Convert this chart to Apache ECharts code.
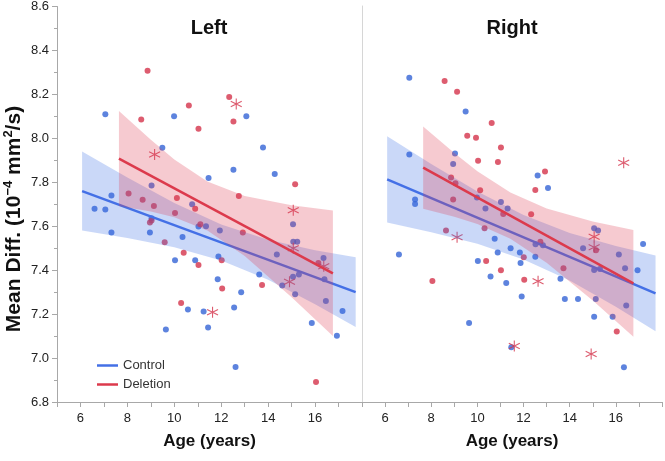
<!DOCTYPE html>
<html>
<head>
<meta charset="utf-8">
<script src="https://cdn.jsdelivr.net/npm/echarts@6/dist/echarts.min.js"></script>
<style>html,body{margin:0;padding:0;background:#fff}#c{width:665px;height:461px}</style>
</head>
<body>
<div id="c"></div>
<script>
// ---------- data ----------
const panelTitles = ['Left', 'Right'];
const xTickLabels = [6, 8, 10, 12, 14, 16];
const yTickLabels = [6.8, 7.0, 7.2, 7.4, 7.6, 7.8, 8.0, 8.2, 8.4, 8.6];

const leftControl = [[6.60,7.68],[7.06,7.676],[7.06,8.11],[7.32,7.74],[7.32,7.571],[8.96,7.571],[9.03,7.636],[9.03,7.785],[9.49,7.957],[9.64,7.130],[9.99,8.10],[10.03,7.445],[10.35,7.551],[10.58,7.221],[10.76,7.70],[10.89,7.445],[11.03,7.599],[11.25,7.212],[11.35,7.60],[11.44,7.139],[11.46,7.82],[11.88,7.462],[11.85,7.359],[11.94,7.58],[12.52,7.857],[12.55,7.23],[12.61,6.959],[12.85,7.299],[13.07,8.101],[13.62,7.38],[13.78,7.958],[14.28,7.838],[14.37,7.471],[14.6,7.33],[15.06,7.609],[15.07,7.529],[15.24,7.529],[15.06,7.37],[15.31,7.38],[15.15,7.29],[15.86,7.16],[16.36,7.455],[16.4,7.359],[16.46,7.26],[16.93,7.101],[17.17,7.214]];
const leftDeletion = [[8.05,7.749],[8.59,8.086],[8.65,7.72],[8.86,8.308],[8.96,7.617],[9.03,7.626],[9.13,7.692],[9.59,7.527],[10.03,7.66],[10.11,7.729],[10.29,7.251],[10.4,7.479],[10.62,8.15],[10.89,7.68],[11.03,8.044],[11.11,7.609],[11.03,7.423],[12.02,7.445],[12.04,7.317],[12.34,8.188],[12.52,8.077],[12.75,7.738],[12.92,7.571],[13.74,7.332],[15.15,7.791],[16.14,7.433],[16.04,6.891]];
const leftDeletionStar = [[9.16,7.926],[11.63,7.209],[12.64,8.156],[15.07,7.673],[15.07,7.50],[14.91,7.347],[16.37,7.418]];

const rightControl = [[6.6,7.471],[7.05,8.274],[7.05,7.925],[7.3,7.72],[7.3,7.70],[8.95,7.882],[9.03,7.929],[9.49,8.12],[9.64,7.159],[9.98,7.729],[10.02,7.441],[10.35,7.68],[10.57,7.37],[10.75,7.542],[10.88,7.48],[11.02,7.709],[11.25,7.341],[11.31,7.68],[11.44,7.499],[11.47,7.049],[11.84,7.48],[11.87,7.432],[11.92,7.279],[12.51,7.46],[12.52,7.517],[12.61,7.829],[12.84,7.512],[13.06,7.773],[13.6,7.36],[13.79,7.268],[14.36,7.268],[14.58,7.499],[15.06,7.59],[15.23,7.58],[15.06,7.40],[15.31,7.405],[15.13,7.268],[15.06,7.188],[15.86,7.188],[16.13,7.47],[16.4,7.408],[16.45,7.239],[16.35,6.958],[16.94,7.399],[17.18,7.518]];
const rightDeletion = [[8.05,7.35],[8.58,8.259],[8.64,7.58],[8.86,7.82],[8.95,7.72],[9.05,7.794],[9.12,8.21],[9.56,8.01],[9.94,8.001],[10.03,7.897],[10.12,7.762],[10.31,7.59],[10.38,7.441],[10.62,8.068],[10.89,7.891],[11.02,7.957],[11.02,7.399],[11.12,7.655],[12.01,7.458],[12.03,7.356],[12.33,7.653],[12.51,7.764],[12.73,7.528],[12.93,7.848],[13.73,7.408],[15.14,7.49],[16.04,7.121]];
const rightDeletionStar = [[9.12,7.549],[12.63,7.349],[16.34,7.888],[15.06,7.551],[15.06,7.503],[11.6,7.055],[14.93,7.018]];

// fit lines (end points)
const leftControlLine = [[6.07,7.760],[17.73,7.300]];
const leftDeletionLine = [[7.64,7.908],[16.76,7.385]];
const rightControlLine = [[6.09,7.812],[17.72,7.294]];
const rightDeletionLine = [[7.65,7.865],[16.76,7.339]];

// confidence bands
const leftControlBandAge = [6.07, 8, 10, 12, 14, 16, 17.73];
const leftControlBandUpper = [7.940, 7.822, 7.706, 7.608, 7.538, 7.491, 7.459];
const leftControlBandLower = [7.580, 7.546, 7.504, 7.444, 7.356, 7.245, 7.141];
const leftDeletionBandAge = [7.64, 9, 10, 11.41, 13, 15, 16.76];
const leftDeletionBandUpper = [8.124, 7.993, 7.904, 7.804, 7.737, 7.695, 7.671];
const leftDeletionBandLower = [7.692, 7.667, 7.641, 7.580, 7.465, 7.277, 7.100];
const rightControlBandAge = [6.09, 8, 10, 12, 14, 16, 17.72];
const rightControlBandUpper = [8.008, 7.882, 7.757, 7.650, 7.568, 7.509, 7.466];
const rightControlBandLower = [7.616, 7.572, 7.519, 7.448, 7.352, 7.233, 7.122];
const rightDeletionBandAge = [7.65, 9, 10, 11.43, 13, 15, 16.76];
const rightDeletionBandUpper = [8.052, 7.932, 7.849, 7.752, 7.679, 7.621, 7.582];
const rightDeletionBandLower = [7.678, 7.642, 7.609, 7.542, 7.433, 7.261, 7.097];

// ---------- styling ----------
const BLUE = '#3564d6', RED = '#d5334b';
const BLUE_LINE = '#4470e6', RED_LINE = '#dc3a4c';
const BLUE_BAND = 'rgba(60,110,230,0.27)', RED_BAND = 'rgba(222,60,82,0.27)';
const FONT = '"Liberation Sans", Arial, sans-serif';
const STAR = 'path://M0,-5L0,5M-4.33,-2.5L4.33,2.5M-4.33,2.5L4.33,-2.5';

function bandSeries(gi, ages, up, lo, color, z) {
  return {
    type: 'custom', xAxisIndex: gi, yAxisIndex: gi, z: z, silent: true,
    data: [[ages[0], up[0]]],
    encode: {x: 0, y: 1},
    renderItem: function (params, api) {
      const pts = [];
      for (let i = 0; i < ages.length; i++) pts.push(api.coord([ages[i], up[i]]));
      for (let i = ages.length - 1; i >= 0; i--) pts.push(api.coord([ages[i], lo[i]]));
      return {type: 'polygon', shape: {points: pts}, style: {fill: color}};
    }
  };
}
function lineSeries(gi, name, data, color, z) {
  return {type: 'line', name: name, xAxisIndex: gi, yAxisIndex: gi, data: data, z: z,
    showSymbol: false, symbol: 'none', lineStyle: {color: color, width: 2.5}, itemStyle: {color: color}, silent: true};
}
function dotSeries(gi, data, color) {
  return {type: 'scatter', xAxisIndex: gi, yAxisIndex: gi, data: data, symbolSize: 6, z: 2,
    itemStyle: {color: color}, silent: true};
}
function starSeries(gi, data) {
  return {type: 'scatter', xAxisIndex: gi, yAxisIndex: gi, data: data, symbol: STAR, symbolSize: 11, z: 2,
    itemStyle: {color: 'rgba(0,0,0,0)', borderColor: RED, borderWidth: 1.1}, silent: true};
}

function xAxis(gi) {
  return {
    type: 'value', gridIndex: gi, min: 5, max: 18, interval: 1,
    name: 'Age (years)', nameLocation: 'middle', nameGap: 31,
    nameTextStyle: {fontFamily: FONT, fontSize: 17, fontWeight: 'bold', color: '#111'},
    axisLine: {show: true, lineStyle: {color: '#a8a8a8', width: 1}},
    axisTick: {show: true, length: 5, lineStyle: {color: '#a8a8a8'}},
    axisLabel: {margin: 10, fontFamily: FONT, fontSize: 13, color: '#222',
      formatter: v => (xTickLabels.indexOf(v) >= 0 ? String(v) : '')},
    splitLine: {show: false}
  };
}
function yAxis(gi, showLabels) {
  return {
    type: 'value', gridIndex: gi, min: 6.8, max: 8.6, interval: 0.2,
    axisLine: {show: true, lineStyle: {color: showLabels ? '#a8a8a8' : '#d6d6d6', width: 1}},
    axisTick: {show: showLabels, length: 5, lineStyle: {color: '#a8a8a8'}},
    minorTick: {show: showLabels, splitNumber: 2, length: 3, lineStyle: {color: '#a8a8a8'}},
    axisLabel: {show: showLabels, margin: 8, fontFamily: FONT, fontSize: 13, color: '#222',
      formatter: v => { const t = yTickLabels.find(k => Math.abs(k - v) < 1e-6); return t === undefined ? '' : t.toFixed(1); }},
    splitLine: {show: false}
  };
}

const option = {
  animation: false,
  backgroundColor: '#fff',
  grid: [
    {left: 57, width: 305, top: 6, bottom: 59},
    {left: 362, width: 303, top: 6, bottom: 59}
  ],
  xAxis: [xAxis(0), xAxis(1)],
  yAxis: [yAxis(0, true), yAxis(1, false)],
  legend: {
    data: ['Control', 'Deletion'], orient: 'vertical', left: 92, top: 354,
    icon: 'rect', itemWidth: 21, itemHeight: 2.5, itemGap: 6,
    textStyle: {fontFamily: FONT, fontSize: 13, color: '#333'}, selectedMode: false
  },
  graphic: [
    {type: 'text', x: 209, y: 28, style: {text: panelTitles[0], fontFamily: FONT, fontSize: 20, fontWeight: 'bold', fill: '#111', align: 'center', verticalAlign: 'middle'}},
    {type: 'text', x: 512, y: 28, style: {text: panelTitles[1], fontFamily: FONT, fontSize: 20, fontWeight: 'bold', fill: '#111', align: 'center', verticalAlign: 'middle'}},
    {type: 'text', x: 14, y: 219, rotation: Math.PI / 2,
      style: {text: '{b|Mean Diff. (10}{s|−4}{b| mm}{s|2}{b|/s)}', align: 'center', verticalAlign: 'middle', fill: '#111',
        rich: {
          b: {fontFamily: FONT, fontSize: 21, fontWeight: 'bold', lineHeight: 24, fill: '#111'},
          s: {fontFamily: FONT, fontSize: 13, fontWeight: 'bold', lineHeight: 24, verticalAlign: 'top', fill: '#111'}
        }}}
  ],
  series: [
    dotSeries(0, leftControl, BLUE),
    dotSeries(0, leftDeletion, RED),
    starSeries(0, leftDeletionStar),
    bandSeries(0, leftControlBandAge, leftControlBandUpper, leftControlBandLower, BLUE_BAND, 3),
    lineSeries(0, 'Control', leftControlLine, BLUE_LINE, 4),
    bandSeries(0, leftDeletionBandAge, leftDeletionBandUpper, leftDeletionBandLower, RED_BAND, 5),
    lineSeries(0, 'Deletion', leftDeletionLine, RED_LINE, 6),

    dotSeries(1, rightControl, BLUE),
    dotSeries(1, rightDeletion, RED),
    starSeries(1, rightDeletionStar),
    bandSeries(1, rightControlBandAge, rightControlBandUpper, rightControlBandLower, BLUE_BAND, 3),
    lineSeries(1, 'Control', rightControlLine, BLUE_LINE, 4),
    bandSeries(1, rightDeletionBandAge, rightDeletionBandUpper, rightDeletionBandLower, RED_BAND, 5),
    lineSeries(1, 'Deletion', rightDeletionLine, RED_LINE, 6)
  ]
};
const chart = echarts.init(document.getElementById('c'), null, {renderer: 'canvas'});
chart.setOption(option);
</script>
</body>
</html>
